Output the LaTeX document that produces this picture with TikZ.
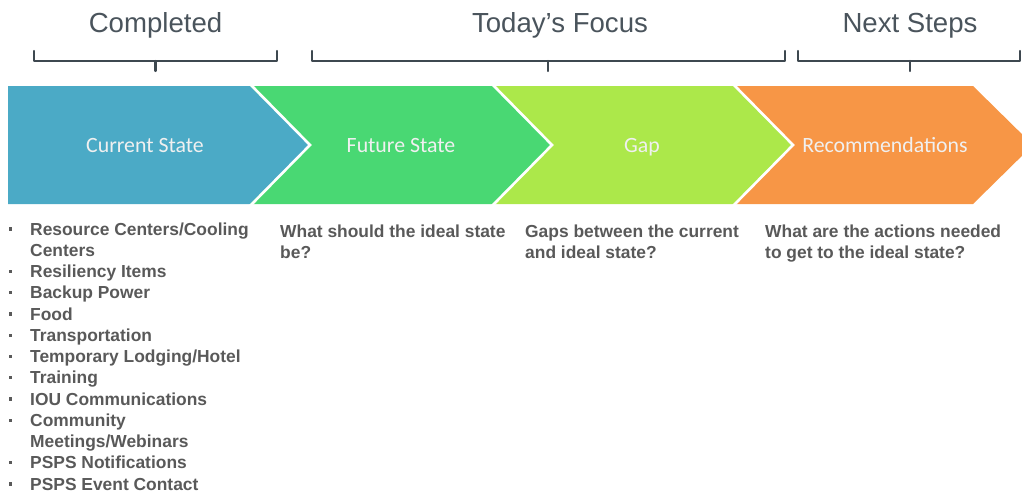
\documentclass[tikz,border=0pt]{standalone}
\usepackage{fontspec}
\setmainfont{Liberation Sans}
\newfontfamily\chevfont{Carlito}
\begin{document}
\begin{tikzpicture}[x=1pt,y=-1pt,
  phasetitle/.style={font=\fontsize{27.6}{30}\selectfont, text=titlegray, anchor=base, inner sep=0pt},
  bracketline/.style={draw=bracketgray, line width=2.2pt, line cap=round, line join=round},
  chev/.style={draw=white, line width=2.6pt, line join=miter},
  chevlabel/.style={font=\chevfont\fontsize{21.8}{24}\selectfont, text=white!94!black, anchor=base, inner sep=0pt},
  bodytext/.style={font=\bfseries\fontsize{17.4}{21.25}\selectfont, text=bodygray, anchor=base west, inner sep=0pt},
  bulletmark/.style={fill=bodygray, minimum size=3.4pt, inner sep=0pt, anchor=center},
]
\definecolor{titlegray}{HTML}{4A545C}
\definecolor{bracketgray}{HTML}{3E4850}
\definecolor{bodygray}{HTML}{595959}
\definecolor{cblue}{HTML}{4BAAC6}
\definecolor{cgreen}{HTML}{49D873}
\definecolor{clime}{HTML}{ACE84A}
\definecolor{corange}{HTML}{F79646}

\useasboundingbox (0,0) rectangle (1022,498);
\clip (0,0) rectangle (1022,498);

% phase headings
\node[phasetitle] (tcompleted) at (155.5,32) {Completed};
\node[phasetitle] (tfocus) at (560,32) {Today’s Focus};
\node[phasetitle] (tnext) at (910,32) {Next Steps};

% brackets under the headings
\draw[bracketline] (34,51) -- (34,61) -- (277,61) -- (277,51);
\draw[bracketline] (155.5,61) -- (155.5,71);
\draw[bracketline] (312,51) -- (312,61) -- (785,61) -- (785,51);
\draw[bracketline] (548,61) -- (548,71);
\draw[bracketline] (798,51) -- (798,61) -- (1020,61) -- (1020,51);
\draw[bracketline] (910,61) -- (910,71);

% process chevrons
\fill[cblue] (8,86) -- (250,86) -- (310,145) -- (250,204) -- (8,204) -- cycle;
\fill[corange] (733,86) -- (973,86) -- (1033,145) -- (973,204) -- (733,204) -- (793,145) -- cycle;
\fill[clime] (492,86) -- (733,86) -- (793,145) -- (733,204) -- (492,204) -- (552,145) -- cycle;
\fill[cgreen] (250,86) -- (492,86) -- (552,145) -- (492,204) -- (250,204) -- (310,145) -- cycle;
% white separators between the chevrons
\draw[chev] (250,84) -- (310,145) -- (250,206);
\draw[chev] (492,84) -- (552,145) -- (492,206);
\draw[chev] (733,84) -- (793,145) -- (733,206);

\node[chevlabel] (current) at (145,152) {Current State};
\node[chevlabel] (future) at (401,152) {Future State};
\node[chevlabel] (gap) at (642,152) {Gap};
\node[chevlabel] (recs) at (885,152) {Recommendations};

% completed items
\foreach \i/\txt/\b in {0/{Resource Centers/Cooling}/1, 1/Centers/0, 2/Resiliency Items/1,
    3/Backup Power/1, 4/Food/1, 5/Transportation/1, 6/{Temporary Lodging/Hotel}/1,
    7/Training/1, 8/IOU Communications/1, 9/Community/1, 10/{Meetings/Webinars}/0,
    11/PSPS Notifications/1, 12/PSPS Event Contact/1}{
  \node[bodytext] (item\i) at (30,235+21.25*\i) {\txt};
  \ifnum\b=1 \node[bulletmark] (dot\i) at (10.5,229+21.25*\i) {};\fi
}

% questions under the other phases
\node[bodytext] (futq1) at (280,237) {What should the ideal state};
\node[bodytext] (futq2) at (280,258) {be?};
\node[bodytext] (gapq1) at (525,237) {Gaps between the current};
\node[bodytext] (gapq2) at (525,258) {and ideal state?};
\node[bodytext] (recq1) at (765,237) {What are the actions needed};
\node[bodytext] (recq2) at (765,258) {to get to the ideal state?};
\end{tikzpicture}
\end{document}
